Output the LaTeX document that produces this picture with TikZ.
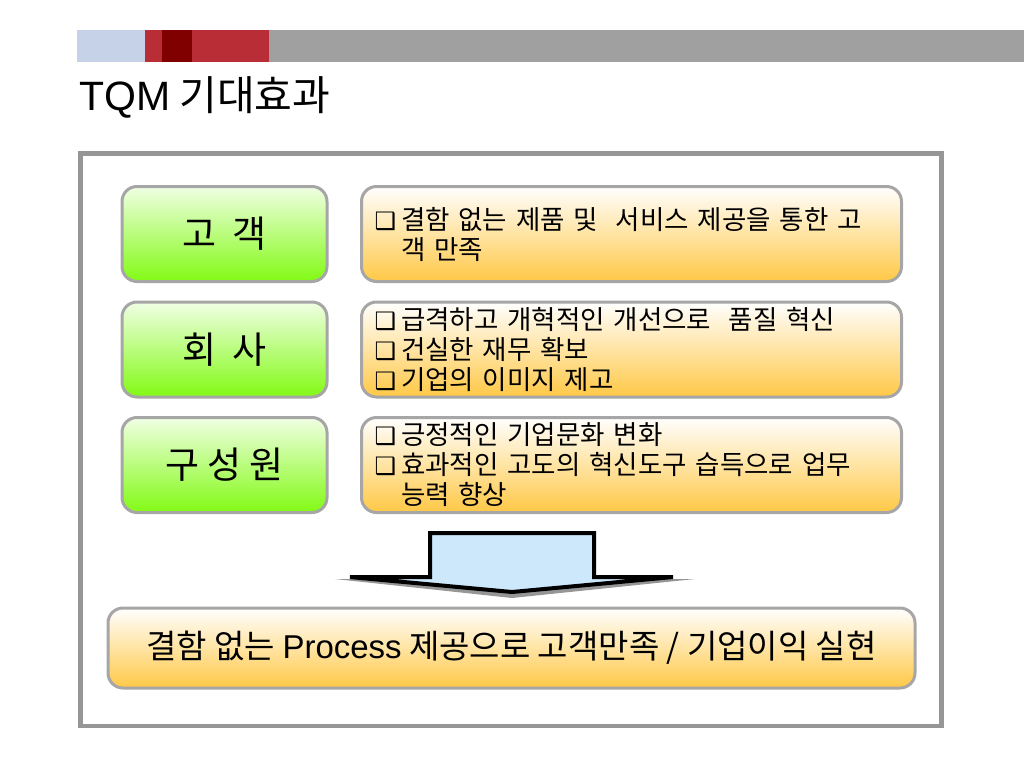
\documentclass[tikz,border=0pt]{standalone}
\usepackage{fontspec}
\setmainfont{Noto Sans CJK KR}
\newfontfamily\latinfont{Liberation Sans}
\newfontfamily\bulfont{DejaVu Sans}
\newcommand{\bul}{{\bulfont\fontsize{24}{30}\selectfont\char"2751}\hspace{5pt}}
\definecolor{barblue}{RGB}{198,210,232}
\definecolor{barred}{RGB}{185,45,55}
\definecolor{bardark}{RGB}{128,0,0}
\definecolor{bargray}{RGB}{160,160,160}
\definecolor{framegray}{RGB}{150,150,150}
\definecolor{boxgray}{RGB}{166,166,166}
\definecolor{greentop}{RGB}{240,255,228}
\definecolor{greenbot}{RGB}{130,250,20}
\definecolor{orangebot}{RGB}{255,200,70}
\definecolor{arrowblue}{RGB}{204,232,250}
\definecolor{shadowgray}{RGB}{150,150,150}
\tikzset{
  groupbox/.style={draw=boxgray, line width=3pt, rounded corners=15pt,
    top color=greentop, bottom color=greenbot,
    minimum width=205pt, minimum height=95pt,
    font=\fontsize{37}{40}\selectfont},
  goldbox/.style={draw=boxgray, line width=3pt, rounded corners=15pt,
    top color=white, bottom color=orangebot},
  itembox/.style={goldbox,
    text width=514pt, inner xsep=13pt, minimum height=95pt, align=left,
    font=\fontsize{26.5}{30}\selectfont},
}
\begin{document}
\begin{tikzpicture}[x=1pt,y=-1pt]
	\useasboundingbox (0,0) rectangle (1024,768);
	\foreach \xa/\xb/\col in {77/145/barblue,
							145/162/barred,
							162/192/bardark,
							192/269/barred,
							269/1024/bargray}
		\fill[\col] (\xa,30) rectangle (\xb,62);
	\node[anchor=west, inner sep=0pt, font=\fontsize{41}{44}\selectfont] (title) at (79,97) {{\latinfont TQM} 기대효과};
	\draw[framegray, line width=4.5pt] (80.5,153.5) rectangle (941.5,726);
	% left column
	\node[groupbox] (cust) at (224.5,234) {고~~객};
	\node[groupbox] (comp) at (224.5,349.5) {회~~사};
	\node[groupbox] (memb) at (224.5,465) {구 성 원};
	% right column
	\node[itembox, anchor=west] (custtxt) at (360,234) {\bul 결함 없는 제품 및~~서비스 제공을 통한 고\\\phantom{\bul}객 만족};
	\node[itembox, anchor=west] (comptxt) at (360,349.5) {\bul 급격하고 개혁적인 개선으로~~품질 혁신\\\bul 건실한 재무 확보\\\bul 기업의 이미지 제고};
	\node[itembox, anchor=west] (membtxt) at (360,465) {\bul 긍정적인 기업문화 변화\\\bul 효과적인 고도의 혁신도구 습득으로 업무\\\phantom{\bul}능력 향상};
	% arrow
	\fill[shadowgray] (335,579) -- (695,579) -- (512,598) -- cycle;
	\draw[line width=4pt, fill=arrowblue] (430,533) -- (594,533) -- (594,577) -- (673,577) -- (512,592) -- (350,577) -- (430,577) -- cycle;
	\node[goldbox, minimum width=807pt, minimum height=80pt,
		font=\fontsize{33}{36}\selectfont] (result) at (511.5,648) {결함 없는 {\latinfont Process} 제공으로 고객만족 / 기업이익 실현};
\end{tikzpicture}
\end{document}
